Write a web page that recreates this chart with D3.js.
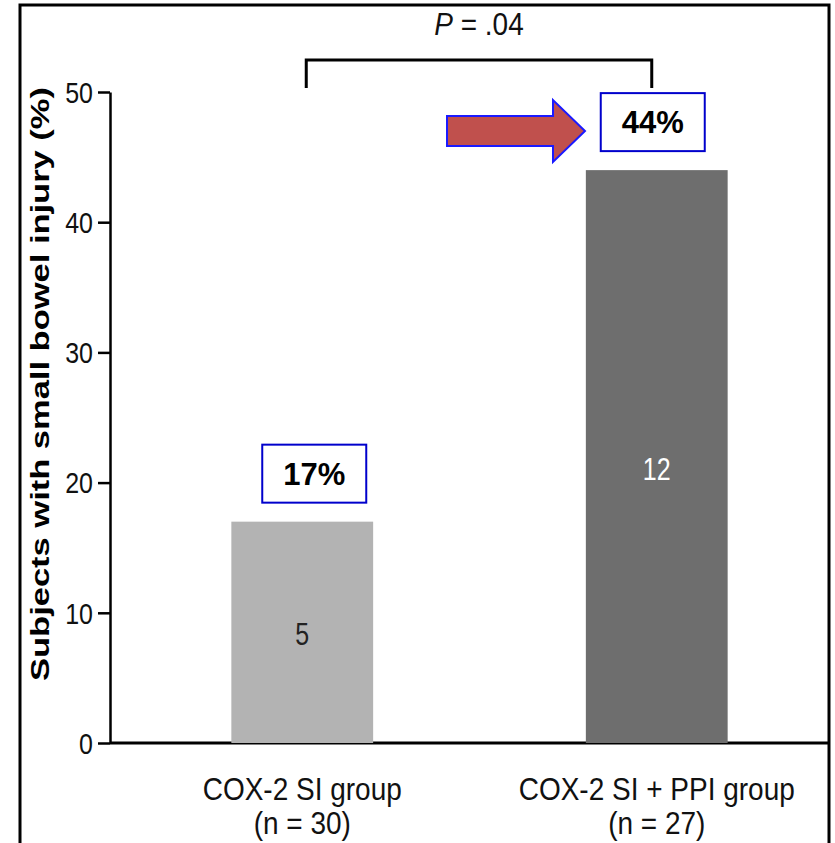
<!DOCTYPE html>
<html>
<head>
<meta charset="utf-8">
<script src="https://cdn.jsdelivr.net/npm/d3@7"></script>
<style>
  body { margin: 0; background: #fff; }
  text { font-family: "Liberation Sans", Arial, sans-serif; }
</style>
</head>
<body>
<script>
// chart data
const groups = ['COX-2 SI group', 'COX-2 SI + PPI group'];
const groupN = ['(n = 30)', '(n = 27)'];
const percents = [17, 44];
const counts = [5, 12];
const barColors = ['#b3b3b3', '#6e6e6e'];
const yTicks = [0, 10, 20, 30, 40, 50];
const pText = '.04';

const width = 835, height = 843;

const svg = d3.select('body').append('svg')
  .attr('width', width)
  .attr('height', height);

// frame (no bottom edge, it is cut off)
svg.append('path')
  .attr('d', `M20,${height} V5 H829 V${height}`)
  .attr('fill', 'none')
  .attr('stroke', '#000')
  .attr('stroke-width', 3);

const y = d3.scaleLinear().domain([0, 50]).range([743, 92]);
const x = d3.scaleBand().domain(groups).range([125, 834]).paddingInner(0.6).paddingOuter(0.3);

// the source figure is stretched vertically, so text gets a y scale
function tallText(px, py, sy) {
  return svg.append('g')
    .attr('transform', `translate(${px},${py}) scale(1,${sy})`)
    .append('text')
    .attr('text-anchor', 'middle');
}

// y axis
const yAxis = svg.append('g')
  .attr('transform', 'translate(110,0)')
  .call(d3.axisLeft(y).tickValues(yTicks).tickSize(12).tickSizeOuter(0).tickPadding(5));
yAxis.select('.domain').attr('stroke-width', 2.5);
yAxis.selectAll('.tick line').attr('stroke-width', 2.5);
yAxis.selectAll('.tick text')
  .attr('font-size', 25)
  .attr('font-family', '"Liberation Sans", Arial, sans-serif')
  .attr('fill', '#111')
  .attr('dy', '0.36em')
  .attr('transform', 'scale(1,1.15)')
  .attr('y', 0);

// x axis line
svg.append('line')
  .attr('x1', 110).attr('x2', 828)
  .attr('y1', y(0)).attr('y2', y(0))
  .attr('stroke', '#000')
  .attr('stroke-width', 3);

// y axis title
svg.append('text')
  .attr('transform', `translate(49,${(90 + 678) / 2}) rotate(-90) scale(1.38,1)`)
  .attr('text-anchor', 'middle')
  .attr('font-size', 25)
  .attr('font-weight', 'bold')
  .text('Subjects with small bowel injury (%)');

// bars
svg.selectAll('.bar')
  .data(groups)
  .enter()
  .append('rect')
  .attr('class', 'bar')
  .attr('x', d => x(d))
  .attr('width', x.bandwidth())
  .attr('y', (d, i) => y(percents[i]))
  .attr('height', (d, i) => y(0) - y(percents[i]))
  .attr('fill', (d, i) => barColors[i]);

// counts inside bars
groups.forEach((g, i) => {
  tallText(x(g) + x.bandwidth() / 2, [645, 480][i], 1.25)
    .attr('font-size', 25)
    .attr('fill', i === 0 ? '#222' : '#fff')
    .text(counts[i]);
});

// category labels
groups.forEach((g, i) => {
  const cx = x(g) + x.bandwidth() / 2;
  tallText(cx, 800, 1.1)
    .attr('font-size', 28)
    .attr('fill', '#111')
    .text(g);
  tallText(cx, 834, 1.1)
    .attr('font-size', 28)
    .attr('fill', '#111')
    .text(groupN[i]);
});

// percent boxes
const boxW = 104, boxH = 58;
groups.forEach((g, i) => {
  const cx = i === 0 ? x(g) + x.bandwidth() / 2 + 12 : x(g) + x.bandwidth() / 2 - 4;
  const by = y(percents[i]) - 77;
  svg.append('rect')
    .attr('x', cx - boxW / 2).attr('y', by)
    .attr('width', boxW).attr('height', boxH)
    .attr('fill', '#fff')
    .attr('stroke', '#0000cc')
    .attr('stroke-width', 2);
  svg.append('text')
    .attr('x', cx).attr('y', by + boxH / 2 + 11)
    .attr('text-anchor', 'middle')
    .attr('font-size', 31)
    .attr('font-weight', 'bold')
    .text(percents[i] + '%');
});

// arrow pointing at the 44% box
const ay = 131;
svg.append('path')
  .attr('d', `M447,${ay - 15} H553 V${ay - 31} L585,${ay} L553,${ay + 31} V${ay + 15} H447 Z`)
  .attr('fill', '#c0504d')
  .attr('stroke', '#1a1aff')
  .attr('stroke-width', 2);

// significance bracket
const bx1 = x(groups[0]) + x.bandwidth() / 2 + 4;
const bx2 = x(groups[1]) + x.bandwidth() / 2 - 5;
svg.append('path')
  .attr('d', `M${bx1},88 V60 H${bx2} V88`)
  .attr('fill', 'none')
  .attr('stroke', '#000')
  .attr('stroke-width', 3);

const pLabel = tallText((bx1 + bx2) / 2, 35, 1.15)
  .attr('font-size', 28)
  .attr('fill', '#111');
pLabel.append('tspan').attr('font-style', 'italic').text('P');
pLabel.append('tspan').text(' = ' + pText);
</script>
</body>
</html>
